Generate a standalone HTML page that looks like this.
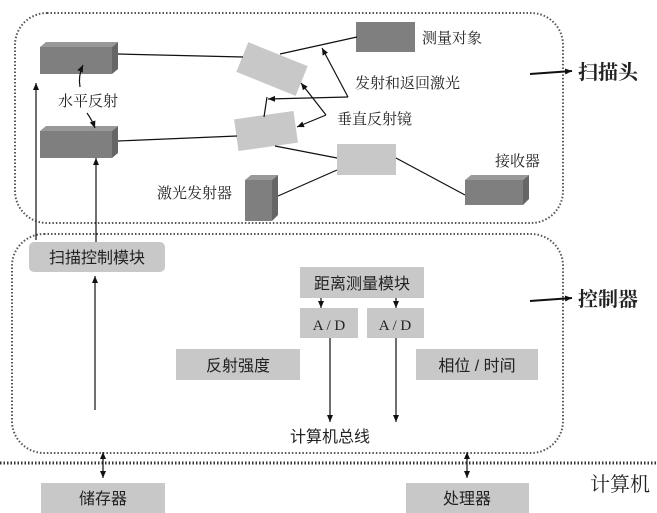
<!DOCTYPE html>
<html><head><meta charset="utf-8"><style>
html,body{margin:0;padding:0;background:#fff;}
svg{display:block;}
text{font-family:"Liberation Serif","Noto Serif CJK SC",serif;fill:#222;}
.s{font-family:"Liberation Sans","Noto Sans CJK SC",sans-serif;}
</style></head><body>
<svg width="657" height="513" viewBox="0 0 657 513" xmlns="http://www.w3.org/2000/svg">
<defs>
<marker id="a" markerWidth="8" markerHeight="8" refX="7" refY="4" orient="auto" markerUnits="userSpaceOnUse">
<path d="M0,1 L7,4 L0,7 z" fill="#111"/></marker>
</defs>
<g fill="none" stroke="#555" stroke-width="2" stroke-dasharray="1.5 2">
<rect x="15" y="13" width="548" height="210" rx="32"/>
<rect x="12" y="234" width="551" height="219" rx="32"/>
<line x1="0" y1="463" x2="657" y2="463" stroke-width="3" stroke="#333"/>
</g>
<!-- scanning head boxes -->
<g stroke="none">
<rect x="40" y="47" width="72" height="27" fill="#7f7f7f"/>
<polygon points="40,47 46,42 118,42 112,47" fill="#999"/>
<polygon points="112,47 118,42 118,69 112,74" fill="#666"/>
<rect x="40" y="131" width="72" height="27" fill="#7f7f7f"/>
<polygon points="40,131 46,126 118,126 112,131" fill="#999"/>
<polygon points="112,131 118,126 118,153 112,158" fill="#666"/>
<rect x="245" y="180" width="27" height="41" fill="#7f7f7f"/>
<polygon points="245,180 251,175 278,175 272,180" fill="#999"/>
<polygon points="272,180 278,175 278,215 272,221" fill="#666"/>
<rect x="465" y="180" width="58" height="25" fill="#7f7f7f"/>
<polygon points="465,180 471,175 529,175 523,180" fill="#999"/>
<polygon points="523,180 529,175 529,199 523,205" fill="#666"/>
<rect x="356" y="22" width="59" height="30" fill="#7f7f7f"/>
<rect x="337" y="144" width="59" height="31" fill="#c8c8c8"/>
<rect x="-32" y="-16" width="64" height="32" fill="#c8c8c8" transform="translate(272,69) rotate(22)"/>
<rect x="-30" y="-16" width="60" height="32" fill="#c8c8c8" transform="translate(266,131) rotate(-8)"/>
</g>
<g stroke="#111" stroke-width="1.2" fill="none">
<line x1="118" y1="54" x2="243" y2="57"/>
<line x1="118" y1="141" x2="237" y2="136"/>
<line x1="280" y1="54" x2="357" y2="37"/>
<line x1="267" y1="97" x2="264" y2="117"/>
<line x1="275" y1="146" x2="337" y2="158"/>
<line x1="278" y1="196" x2="337" y2="170"/>
<line x1="396" y1="158" x2="465" y2="195"/>
<line x1="348" y1="97" x2="322" y2="48" marker-end="url(#a)"/>
<line x1="348" y1="97" x2="268" y2="99" marker-end="url(#a)"/>
<line x1="326" y1="115" x2="301" y2="83" marker-end="url(#a)"/>
<line x1="326" y1="115" x2="297" y2="127" marker-end="url(#a)"/>
<path d="M80,87 Q78,76 83,65" marker-end="url(#a)"/>
<path d="M87,113 Q92,120 95,128" marker-end="url(#a)"/>
<line x1="36" y1="240" x2="36" y2="83" marker-end="url(#a)"/>
<line x1="96" y1="242" x2="96" y2="158" marker-end="url(#a)"/>
<line x1="95" y1="410" x2="95" y2="276" marker-end="url(#a)"/>
<line x1="321" y1="298" x2="321" y2="308" marker-end="url(#a)"/>
<line x1="396" y1="298" x2="396" y2="308" marker-end="url(#a)"/>
<line x1="330" y1="338" x2="330" y2="422" marker-end="url(#a)"/>
<line x1="396" y1="338" x2="396" y2="422" marker-end="url(#a)"/>
<line x1="103" y1="463" x2="103" y2="478" marker-end="url(#a)"/>
<line x1="103" y1="463" x2="103" y2="452" marker-end="url(#a)"/>
<line x1="467" y1="463" x2="467" y2="478" marker-end="url(#a)"/>
<line x1="467" y1="463" x2="467" y2="452" marker-end="url(#a)"/>
<line x1="530" y1="74" x2="572" y2="71" stroke-width="2" marker-end="url(#a)"/>
<line x1="530" y1="301" x2="572" y2="298" stroke-width="2" marker-end="url(#a)"/>
</g>
<!-- controller boxes -->
<g fill="#c8c8c8">
<rect x="29" y="242" width="136" height="30" rx="5"/>
<rect x="300" y="267" width="124" height="31"/>
<rect x="300" y="308" width="58" height="30"/>
<rect x="367" y="308" width="57" height="30"/>
<rect x="176" y="349" width="124" height="31"/>
<rect x="416" y="349" width="122" height="31"/>
<rect x="41" y="483" width="124" height="30"/>
<rect x="406" y="483" width="123" height="30"/>
</g>
<g font-size="15">
<text x="58" y="106">水平反射</text>
<text x="422" y="43">测量对象</text>
<text x="355" y="88">发射和返回激光</text>
<text x="337" y="124">垂直反射镜</text>
<text x="157" y="198">激光发射器</text>
<text x="495" y="166">接收器</text>
<text x="578" y="79" font-size="20" font-weight="bold">扫描头</text>
<text x="578" y="306" font-size="20" font-weight="bold">控制器</text>
<text x="590" y="491" font-size="20">计算机</text>
<text x="329" y="330" text-anchor="middle">A / D</text>
<text x="395" y="330" text-anchor="middle">A / D</text>
</g>
<g class="s" font-size="16" text-anchor="middle">
<text class="s" x="97" y="263">扫描控制模块</text>
<text class="s" x="362" y="289">距离测量模块</text>
<text class="s" x="238" y="371">反射强度</text>
<text class="s" x="477" y="371">相位 / 时间</text>
<text class="s" x="330" y="442">计算机总线</text>
<text class="s" x="103" y="504">储存器</text>
<text class="s" x="467" y="504">处理器</text>
</g>
</svg>
</body></html>
